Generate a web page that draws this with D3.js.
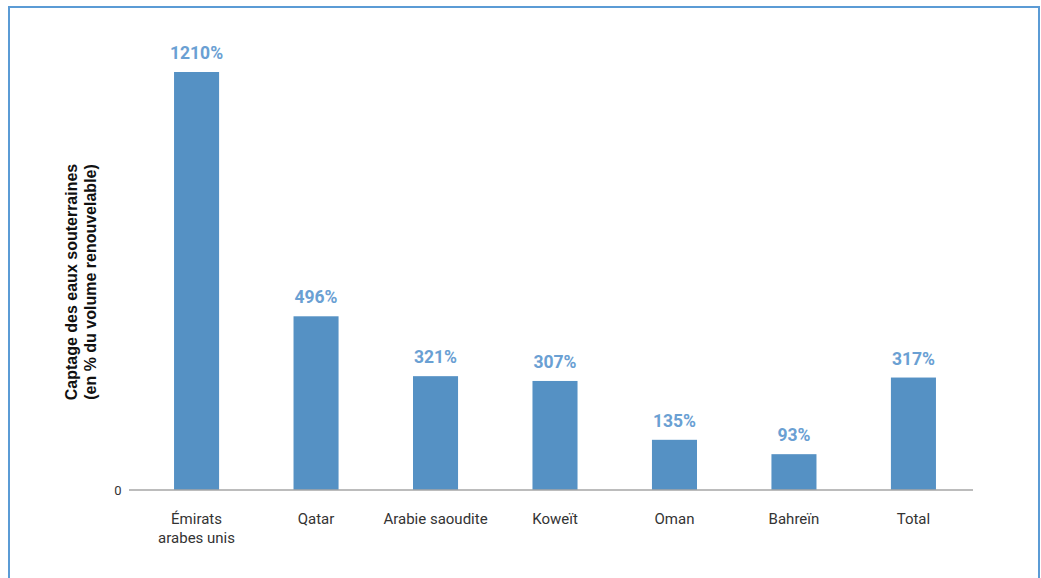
<!DOCTYPE html>
<html>
<head>
<meta charset="utf-8">
<script src="https://cdn.jsdelivr.net/npm/d3@7"></script>
<style>
	body { margin: 0; background: #fff; font-family: Roboto, "Open Sans", sans-serif; }
	.frame { fill: none; stroke: #5b9bd5; stroke-width: 2; }
	.bar { fill: #5591c4; }
	.value { fill: #6aa0d3; font-weight: bold; font-size: 17.5px; text-anchor: middle; }
	.cat { fill: #333; font-size: 15px; text-anchor: middle; }
	.ytitle { fill: #111; font-weight: bold; font-size: 16px; text-anchor: middle; font-family: "Liberation Sans", Arial, sans-serif; }
</style>
</head>
<body>
<svg width="1041" height="578"></svg>
<script>
	var categories = [["Émirats", "arabes unis"], ["Qatar"], ["Arabie saoudite"], ["Koweït"], ["Oman"], ["Bahreïn"], ["Total"]];
	var values = [1210, 496, 321, 307, 135, 93, 317];
	var yTitle = ["Captage des eaux souterraines", "(en % du volume renouvelable)"];

	var svg = d3.select("svg");

	// border box, open at the bottom
	svg.append("path")
		.attr("class", "frame")
		.attr("d", "M9,590 L9,7 L1039,7 L1039,590");

	var x = d3.scaleBand()
		.domain(d3.range(values.length))
		.range([137, 973])
		.paddingInner(0.623)
		.paddingOuter(0.31);

	var y = d3.scaleLinear()
		.domain([0, 1210])
		.range([486, 72]);

	var baseY = 490;

	svg.selectAll(".bar")
		.data(values)
		.enter().append("rect")
		.attr("class", "bar")
		.attr("x", function (d, i) { return x(i); })
		.attr("width", x.bandwidth())
		.attr("y", function (d) { return y(d); })
		.attr("height", function (d) { return baseY - y(d); });

	svg.selectAll(".value")
		.data(values)
		.enter().append("text")
		.attr("class", "value")
		.attr("x", function (d, i) { return x(i) + x.bandwidth() / 2; })
		.attr("y", function (d) { return y(d) - 13; })
		.text(function (d) { return d + "%"; });

	// baseline
	svg.append("line")
		.attr("x1", 129).attr("x2", 973)
		.attr("y1", baseY).attr("y2", baseY)
		.attr("stroke", "#a6a6a6")
		.attr("stroke-width", 1.5);

	svg.append("text")
		.attr("x", 118).attr("y", baseY + 5)
		.attr("font-size", 13).attr("fill", "#333")
		.attr("text-anchor", "middle")
		.text("0");

	var cat = svg.selectAll(".cat")
		.data(categories)
		.enter().append("text")
		.attr("class", "cat")
		.attr("x", function (d, i) { return x(i) + x.bandwidth() / 2; })
		.attr("y", 523.5);
	cat.selectAll("tspan")
		.data(function (d) { return d; })
		.enter().append("tspan")
		.attr("x", function () { return d3.select(this.parentNode).attr("x"); })
		.attr("dy", function (d, i) { return i ? 19 : 0; })
		.text(function (d) { return d; });

	var yt = svg.append("text")
		.attr("class", "ytitle")
		.attr("transform", "translate(77,282) rotate(-90)");
	yt.selectAll("tspan")
		.data(yTitle)
		.enter().append("tspan")
		.attr("x", 0)
		.attr("dy", function (d, i) { return i ? 19 : 0; })
		.text(function (d) { return d; });
</script>
</body>
</html>
